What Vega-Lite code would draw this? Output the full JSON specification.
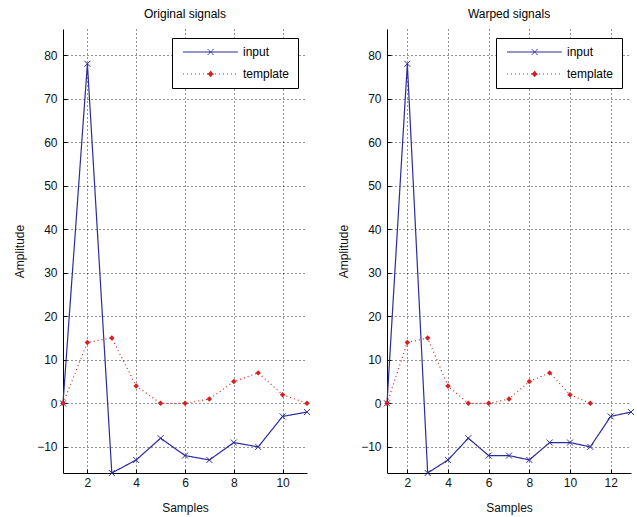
{
  "$schema": "https://vega.github.io/schema/vega-lite/v6.json",
  "padding": {"left": 13, "top": 8, "right": 5, "bottom": 5},
  "background": "white",
  "spacing": 25,
  "config": {
    "font": "Liberation Sans",
    "view": {"stroke": null},
    "title": {"fontSize": 12, "fontWeight": "normal", "color": "black", "offset": 8, "font": "Liberation Sans"},
    "axis": {
      "labelFontSize": 12, "labelColor": "#111", "titleFontSize": 12, "titleFontWeight": "normal", "titleColor": "#111",
      "domainColor": "black", "tickColor": "black", "tickSize": -4,
      "grid": true, "gridColor": "black", "gridDash": [1, 3], "gridOpacity": 0.85, "gridWidth": 1
    },
    "axisX": {"labelPadding": 8, "titlePadding": 14},
    "axisY": {"labelPadding": 10, "titlePadding": 10}
  },
  "data": {"values": [
    {"panel": "Original", "series": "input", "x": 1, "y": 0},
    {"panel": "Original", "series": "input", "x": 2, "y": 78},
    {"panel": "Original", "series": "input", "x": 3, "y": -16},
    {"panel": "Original", "series": "input", "x": 4, "y": -13},
    {"panel": "Original", "series": "input", "x": 5, "y": -8},
    {"panel": "Original", "series": "input", "x": 6, "y": -12},
    {"panel": "Original", "series": "input", "x": 7, "y": -13},
    {"panel": "Original", "series": "input", "x": 8, "y": -9},
    {"panel": "Original", "series": "input", "x": 9, "y": -10},
    {"panel": "Original", "series": "input", "x": 10, "y": -3},
    {"panel": "Original", "series": "input", "x": 11, "y": -2},
    {"panel": "Original", "series": "template", "x": 1, "y": 0},
    {"panel": "Original", "series": "template", "x": 2, "y": 14},
    {"panel": "Original", "series": "template", "x": 3, "y": 15},
    {"panel": "Original", "series": "template", "x": 4, "y": 4},
    {"panel": "Original", "series": "template", "x": 5, "y": 0},
    {"panel": "Original", "series": "template", "x": 6, "y": 0},
    {"panel": "Original", "series": "template", "x": 7, "y": 1},
    {"panel": "Original", "series": "template", "x": 8, "y": 5},
    {"panel": "Original", "series": "template", "x": 9, "y": 7},
    {"panel": "Original", "series": "template", "x": 10, "y": 2},
    {"panel": "Original", "series": "template", "x": 11, "y": 0},
    {"panel": "Warped", "series": "input", "x": 1, "y": 0},
    {"panel": "Warped", "series": "input", "x": 2, "y": 78},
    {"panel": "Warped", "series": "input", "x": 3, "y": -16},
    {"panel": "Warped", "series": "input", "x": 4, "y": -13},
    {"panel": "Warped", "series": "input", "x": 5, "y": -8},
    {"panel": "Warped", "series": "input", "x": 6, "y": -12},
    {"panel": "Warped", "series": "input", "x": 7, "y": -12},
    {"panel": "Warped", "series": "input", "x": 8, "y": -13},
    {"panel": "Warped", "series": "input", "x": 9, "y": -9},
    {"panel": "Warped", "series": "input", "x": 10, "y": -9},
    {"panel": "Warped", "series": "input", "x": 11, "y": -10},
    {"panel": "Warped", "series": "input", "x": 12, "y": -3},
    {"panel": "Warped", "series": "input", "x": 13, "y": -2},
    {"panel": "Warped", "series": "template", "x": 1, "y": 0},
    {"panel": "Warped", "series": "template", "x": 2, "y": 14},
    {"panel": "Warped", "series": "template", "x": 3, "y": 15},
    {"panel": "Warped", "series": "template", "x": 4, "y": 4},
    {"panel": "Warped", "series": "template", "x": 5, "y": 0},
    {"panel": "Warped", "series": "template", "x": 6, "y": 0},
    {"panel": "Warped", "series": "template", "x": 7, "y": 1},
    {"panel": "Warped", "series": "template", "x": 8, "y": 5},
    {"panel": "Warped", "series": "template", "x": 9, "y": 7},
    {"panel": "Warped", "series": "template", "x": 10, "y": 2},
    {"panel": "Warped", "series": "template", "x": 11, "y": 0}
  ]},
  "resolve": {"scale": {"color": "independent", "strokeDash": "independent"}, "legend": {"color": "independent"}},
  "hconcat": [
    {
      "width": 244, "height": 444,
      "title": "Original signals",
      "transform": [{"filter": "datum.panel === 'Original'"}],
      "encoding": {
        "x": {"field": "x", "type": "quantitative", "scale": {"domain": [1, 11], "nice": false, "zero": false}, "axis": {"values": [2, 4, 6, 8, 10], "title": "Samples"}},
        "y": {"field": "y", "type": "quantitative", "scale": {"domain": [-16, 86], "nice": false, "zero": false}, "axis": {"values": [-10, 0, 10, 20, 30, 40, 50, 60, 70, 80], "title": "Amplitude"}}
      },
      "layer": [
        {
          "mark": {"type": "line", "strokeWidth": 1.2},
          "encoding": {
            "color": {"field": "series", "type": "nominal", "scale": {"domain": ["input", "template"], "range": ["#2b2b9c", "#d42020"]},
              "legend": {"title": null, "orient": "top-right", "offset": 9, "strokeColor": "black", "fillColor": "white", "padding": 8, "labelFontSize": 12, "labelColor": "black", "symbolSize": 36, "labelOffset": 51, "rowPadding": 10, "symbolStrokeWidth": 1,
                "encode": {"symbols": {"update": {
                  "shape": {"signal": "datum.value === 'input' ? 'M-1,0H17.3M7.2,-1L9.2,1M7.2,1L9.2,-1' : 'M-1,0H17.3M8.2,-1L9.2,0L8.2,1L7.2,0Z'"},
                  "fill": {"signal": "datum.value === 'input' ? 'transparent' : '#d42020'"},
                  "strokeDash": {"signal": "datum.value === 'input' ? [1, 0] : [1, 3]"}
                }}}}},
            "strokeDash": {"field": "series", "type": "nominal", "scale": {"domain": ["input", "template"], "range": [[1, 0], [1, 3]]}, "legend": null}
          }
        },
        {
          "transform": [{"filter": "datum.series === 'input'"}],
          "mark": {"type": "point", "shape": "M-1,-1L1,1M-1,1L1,-1", "size": 36, "filled": false, "strokeWidth": 1, "color": "#2b2b9c", "opacity": 1}
        },
        {
          "transform": [{"filter": "datum.series === 'template'"}],
          "mark": {"type": "point", "shape": "diamond", "size": 30, "filled": true, "color": "#d42020", "opacity": 1}
        }
      ]
    },
    {
      "width": 244, "height": 444,
      "title": "Warped signals",
      "transform": [{"filter": "datum.panel === 'Warped'"}],
      "encoding": {
        "x": {"field": "x", "type": "quantitative", "scale": {"domain": [1, 13], "nice": false, "zero": false}, "axis": {"values": [2, 4, 6, 8, 10, 12], "title": "Samples"}},
        "y": {"field": "y", "type": "quantitative", "scale": {"domain": [-16, 86], "nice": false, "zero": false}, "axis": {"values": [-10, 0, 10, 20, 30, 40, 50, 60, 70, 80], "title": "Amplitude"}}
      },
      "layer": [
        {
          "mark": {"type": "line", "strokeWidth": 1.2},
          "encoding": {
            "color": {"field": "series", "type": "nominal", "scale": {"domain": ["input", "template"], "range": ["#2b2b9c", "#d42020"]},
              "legend": {"title": null, "orient": "top-right", "offset": 9, "strokeColor": "black", "fillColor": "white", "padding": 8, "labelFontSize": 12, "labelColor": "black", "symbolSize": 36, "labelOffset": 51, "rowPadding": 10, "symbolStrokeWidth": 1,
                "encode": {"symbols": {"update": {
                  "shape": {"signal": "datum.value === 'input' ? 'M-1,0H17.3M7.2,-1L9.2,1M7.2,1L9.2,-1' : 'M-1,0H17.3M8.2,-1L9.2,0L8.2,1L7.2,0Z'"},
                  "fill": {"signal": "datum.value === 'input' ? 'transparent' : '#d42020'"},
                  "strokeDash": {"signal": "datum.value === 'input' ? [1, 0] : [1, 3]"}
                }}}}},
            "strokeDash": {"field": "series", "type": "nominal", "scale": {"domain": ["input", "template"], "range": [[1, 0], [1, 3]]}, "legend": null}
          }
        },
        {
          "transform": [{"filter": "datum.series === 'input'"}],
          "mark": {"type": "point", "shape": "M-1,-1L1,1M-1,1L1,-1", "size": 36, "filled": false, "strokeWidth": 1, "color": "#2b2b9c", "opacity": 1}
        },
        {
          "transform": [{"filter": "datum.series === 'template'"}],
          "mark": {"type": "point", "shape": "diamond", "size": 30, "filled": true, "color": "#d42020", "opacity": 1}
        }
      ]
    }
  ]
}
